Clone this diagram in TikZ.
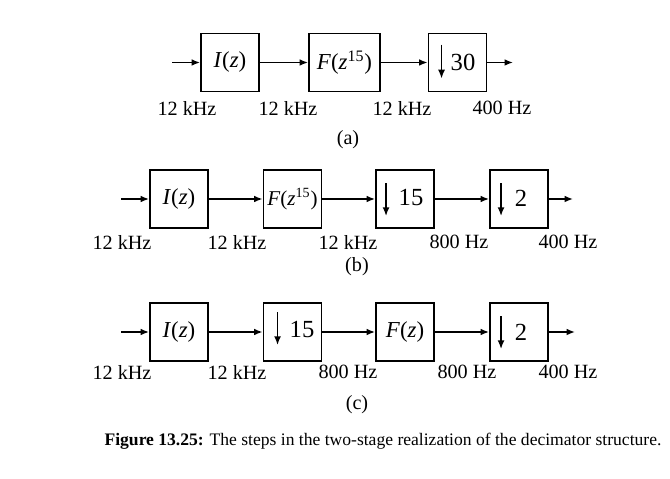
\documentclass[tikz,border=0pt]{standalone}
\usepackage{fontspec}
\setmainfont{Liberation Serif}
\usetikzlibrary{arrows.meta,calc}
\begin{document}
\begin{tikzpicture}[x=0.02cm,y=-0.02cm,
  font=\fontsize{11.5}{13}\selectfont,
  blk/.style={draw,line width=1.1pt,minimum width=1.16cm,minimum height=1.16cm,inner sep=0pt,font=\fontsize{13}{15}\selectfont},
  num/.style={inner sep=0pt,font=\fontsize{14}{16}\selectfont},
  conn/.style={line width=0.8pt,-{Latex[length=4.8pt,width=3.8pt]}},
  dn/.style={line width=0.9pt,-{Latex[length=5pt,width=4pt]}},
  lbl/.style={inner sep=0pt}]
\useasboundingbox (0,0) rectangle (670,479);
% ---------- (a)
\node[blk] (aI) at (230,62.5) {\textit{I}(\textit{z})};
\node[blk,minimum width=1.42cm] (aF) at (344.5,62.5) {\textit{F}(\textit{z}\textsuperscript{15})};
\node[blk] (aD) at (457.5,62.5) {};
\node[num] (aDn) at (463,62) {30};
\draw[dn] ($(aD.north west)+(14,12)$) -- ($(aD.north west)+(14,46)$);
\coordinate (ain) at (172,62.5);
\coordinate (aout) at (513,62.5);
\draw[conn] (ain) -- (aI);
\draw[conn] (aI) -- (aF);
\draw[conn] (aF) -- (aD);
\draw[conn] (aD) -- (aout);
\node[lbl] (al1) at (187,108) {12 kHz};
\node[lbl] (al2) at (288,108) {12 kHz};
\node[lbl] (al3) at (402,108) {12 kHz};
\node[lbl] (al4) at (502,108) {400 Hz};
\node[lbl] (acap) at (348,140) {(a)};
% ---------- (b)
\node[blk] (bI) at (179,199) {\textit{I}(\textit{z})};
\node[blk,font=\fontsize{12}{14}\selectfont] (bF) at (292.5,199) {\textit{F}(\textit{z}\textsuperscript{15})};
\node[blk] (bD1) at (405,199) {};
\node[num] (bD1n) at (411,198) {15};
\draw[dn] ($(bD1.north west)+(11,14)$) -- ($(bD1.north west)+(11,47)$);
\node[blk] (bD2) at (519,199) {};
\node[num] (bD2n) at (521,198) {2};
\draw[dn] ($(bD2.north west)+(12,14)$) -- ($(bD2.north west)+(12,47)$);
\coordinate (bin) at (121,199);
\coordinate (bout) at (573,199);
\draw[conn] (bin) -- (bI);
\draw[conn] (bI) -- (bF);
\draw[conn] (bF) -- (bD1);
\draw[conn] (bD1) -- (bD2);
\draw[conn] (bD2) -- (bout);
\node[lbl] (bl1) at (122,242) {12 kHz};
\node[lbl] (bl2) at (237,242) {12 kHz};
\node[lbl] (bl3) at (348,242) {12 kHz};
\node[lbl] (bl4) at (459,242) {800 Hz};
\node[lbl] (bl5) at (568,242) {400 Hz};
\node[lbl] (bcap) at (357,267) {(b)};
% ---------- (c)
\node[blk] (cI) at (179,332) {\textit{I}(\textit{z})};
\node[blk] (cD1) at (292.5,332) {};
\node[num] (cD1n) at (302,330) {15};
\draw[dn] ($(cD1.north west)+(15,10)$) -- ($(cD1.north west)+(15,43)$);
\node[blk] (cF) at (405,332) {\textit{F}(\textit{z})};
\node[blk] (cD2) at (519,332) {};
\node[num] (cD2n) at (521,332) {2};
\draw[dn] ($(cD2.north west)+(12,14)$) -- ($(cD2.north west)+(12,47)$);
\coordinate (cin) at (121,332);
\coordinate (cout) at (575,332);
\draw[conn] (cin) -- (cI);
\draw[conn] (cI) -- (cD1);
\draw[conn] (cD1) -- (cF);
\draw[conn] (cF) -- (cD2);
\draw[conn] (cD2) -- (cout);
\node[lbl] (cl1) at (122,372) {12 kHz};
\node[lbl] (cl2) at (237,372) {12 kHz};
\node[lbl] (cl3) at (348,372) {800 Hz};
\node[lbl] (cl4) at (467,372) {800 Hz};
\node[lbl] (cl5) at (568,372) {400 Hz};
\node[lbl] (ccap) at (357,405) {(c)};
% ---------- caption
\node[lbl,font=\fontsize{10}{12}\selectfont] (fig) at (383,441) {\textbf{Figure 13.25:} The steps in the two-stage realization of the decimator structure.};
\end{tikzpicture}
\end{document}
